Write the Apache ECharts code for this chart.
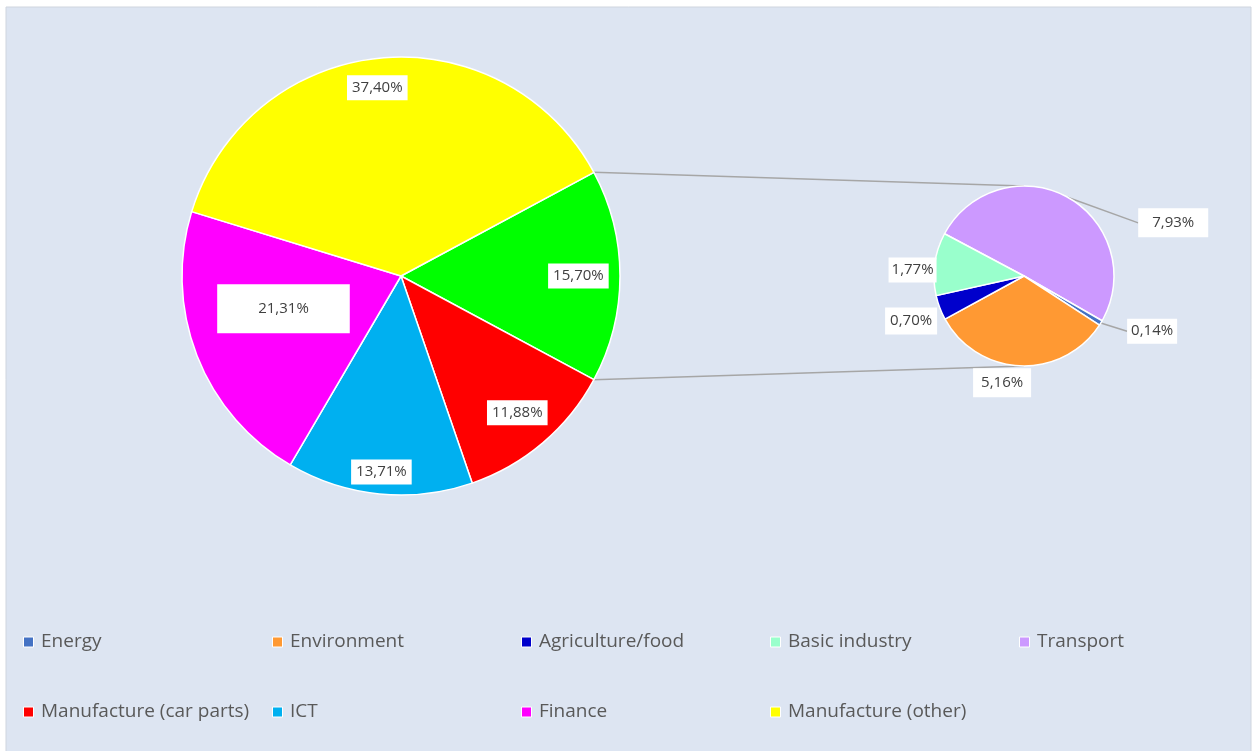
<!DOCTYPE html>
<html>
<head>
<meta charset="utf-8">
<script src="https://cdn.jsdelivr.net/npm/echarts@6/dist/echarts.min.js"></script>
<style>
html,body{margin:0;padding:0;background:#ffffff;}
#chart{width:1255px;height:751px;}
</style>
</head>
<body>
<div id="chart"></div>
<script>
// ---------- data ----------
const mainNames  = ['Other', 'Manufacture (car parts)', 'ICT', 'Finance', 'Manufacture (other)'];
const mainValues = [15.70, 11.88, 13.71, 21.31, 37.40];
const subNames   = ['Transport', 'Energy', 'Environment', 'Agriculture/food', 'Basic industry'];
const subValues  = [7.93, 0.14, 5.16, 0.70, 1.77];
const legendRow1 = ['Energy', 'Environment', 'Agriculture/food', 'Basic industry', 'Transport'];
const legendRow2 = ['Manufacture (car parts)', 'ICT', 'Finance', 'Manufacture (other)'];

// ---------- styles / layout ----------
const colors = {
  'Other': '#00ff00',
  'Manufacture (car parts)': '#ff0000',
  'ICT': '#00b0f0',
  'Finance': '#ff00ff',
  'Manufacture (other)': '#ffff00',
  'Transport': '#cc99ff',
  'Energy': '#4472c4',
  'Environment': '#ff9933',
  'Agriculture/food': '#0000cc',
  'Basic industry': '#99ffcc'
};
const FONT = '"Open Sans", "Noto Sans", sans-serif';
const C1 = [401, 276], R1 = 219;
const C2 = [1024, 276], R2 = 90;
const sum = a => a.reduce((s, v) => s + v, 0);
const mainStart = mainValues[0] / sum(mainValues) * 180;
const subStart = 152;

function midAngle(values, start, i) {
  const tot = sum(values);
  let acc = 0;
  for (let k = 0; k < i; k++) acc += values[k];
  return start - (acc + values[i] / 2) / tot * 360;
}
const rad = d => d * Math.PI / 180;
const fmt = v => v.toFixed(2).replace('.', ',') + '%';

// label placement (distance factor of radius, angle offset in degrees)
const mainLabelPlace = {
  'Other': [0.81, 0], 'Manufacture (car parts)': [0.82, 0], 'ICT': [0.9, 0],
  'Finance': [0.557, -5.7], 'Manufacture (other)': [0.866, 1.6]
};
const mainLabelPad = { 'Finance': [16, 41] };
const subLabelPlace = {
  'Transport': [1.76, 19.6], 'Energy': [1.55, -23.3], 'Environment': [1.21, -101.6],
  'Agriculture/food': [1.35, -158.3], 'Basic industry': [1.24, 176.9]
};
const subLabelPad = {
  'Transport': [6, 14], 'Energy': [4, 4], 'Environment': [6, 8],
  'Agriculture/food': [5, 5], 'Basic industry': [4, 3]
};
const subWithLine = { 'Transport': true, 'Energy': true };

const labelBase = {
  color: '#404040', fontFamily: FONT, fontSize: 15, lineHeight: 17,
  backgroundColor: '#ffffff', padding: [4, 5],
  formatter: p => fmt(p.value)
};

const mainData = mainNames.map((n, i) => ({
  name: n, value: mainValues[i],
  itemStyle: { color: colors[n] },
  label: mainLabelPad[n] ? { padding: mainLabelPad[n] } : {}
}));
const subData = subNames.map((n, i) => ({
  name: n, value: subValues[i],
  itemStyle: { color: colors[n] },
  label: { padding: subLabelPad[n] },
  labelLine: { show: !!subWithLine[n] }
}));

// connector lines from the "Other" slice to the secondary pie
const a0 = rad(mainStart);
const p1 = [C1[0] + R1 * Math.cos(a0), C1[1] - R1 * Math.sin(a0)];
const p2 = [C1[0] + R1 * Math.cos(a0), C1[1] + R1 * Math.sin(a0)];
const q1 = [C2[0], C2[1] - R2];
const q2 = [C2[0], C2[1] + R2];
const lineStyle = { stroke: '#a6a6a6', lineWidth: 1.5 };

const legendCommon = {
  icon: 'rect', itemWidth: 10, itemHeight: 10, itemGap: 12, padding: 0,
  selectedMode: false, left: 23, width: 1400,
  itemStyle: { borderColor: '#ffffff', borderWidth: 1 },
  textStyle: {
    color: '#595959', fontFamily: FONT, fontSize: 19, lineHeight: 20,
    width: 219, padding: [0, 0, 0, 2.5], overflow: 'none'
  }
};

const option = {
  animation: false,
  backgroundColor: '#ffffff',
  graphic: [
    { type: 'rect', z: -10, silent: true,
      shape: { x: 6, y: 7, width: 1245, height: 760 },
      style: { fill: '#dde5f2', stroke: '#cfd5de', lineWidth: 1 } },
    { type: 'line', z: 0, silent: true,
      shape: { x1: p1[0], y1: p1[1], x2: q1[0], y2: q1[1] }, style: lineStyle },
    { type: 'line', z: 0, silent: true,
      shape: { x1: p2[0], y1: p2[1], x2: q2[0], y2: q2[1] }, style: lineStyle }
  ],
  legend: [
    Object.assign({}, legendCommon, { top: 632, data: legendRow1 }),
    Object.assign({}, legendCommon, { top: 702, data: legendRow2 })
  ],
  series: [
    {
      type: 'pie', name: 'main',
      center: C1, radius: [0, R1],
      startAngle: mainStart, clockwise: true,
      avoidLabelOverlap: false,
      emphasis: { disabled: true },
      itemStyle: { borderColor: '#ffffff', borderWidth: 1.5 },
      label: Object.assign({ show: true, position: 'inside' }, labelBase),
      labelLine: { show: false },
      labelLayout: function (p) {
        const n = mainNames[p.dataIndex];
        const pl = mainLabelPlace[n];
        const ang = rad(midAngle(mainValues, mainStart, p.dataIndex) + pl[1]);
        return {
          x: C1[0] + R1 * pl[0] * Math.cos(ang),
          y: C1[1] - R1 * pl[0] * Math.sin(ang),
          align: 'center', verticalAlign: 'middle'
        };
      },
      data: mainData
    },
    {
      type: 'pie', name: 'sub',
      center: C2, radius: [0, R2],
      startAngle: subStart, clockwise: true,
      avoidLabelOverlap: false,
      emphasis: { disabled: true },
      itemStyle: { borderColor: '#ffffff', borderWidth: 1.5 },
      label: Object.assign({ show: true, position: 'outside' }, labelBase),
      labelLine: { show: true, length: 10, length2: 10, lineStyle: { color: '#a6a6a6', width: 1.5 } },
      labelLayout: function (p) {
        const i = p.dataIndex;
        const n = subNames[i];
        const pl = subLabelPlace[n];
        const ang = rad(pl[1]);
        const x = C2[0] + R2 * pl[0] * Math.cos(ang);
        const y = C2[1] - R2 * pl[0] * Math.sin(ang);
        const res = { x: x, y: y, align: 'center', verticalAlign: 'middle' };
        if (subWithLine[n]) {
          const m = rad(midAngle(subValues, subStart, i));
          const e = [C2[0] + R2 * Math.cos(m), C2[1] - R2 * Math.sin(m)];
          const w = p.labelRect.width;
          const end = [x - w / 2, y];
          res.labelLinePoints = [e, end, end];
        }
        return res;
      },
      data: subData
    }
  ]
};

const chart = echarts.init(document.getElementById('chart'));
chart.setOption(option);
</script>
</body>
</html>
